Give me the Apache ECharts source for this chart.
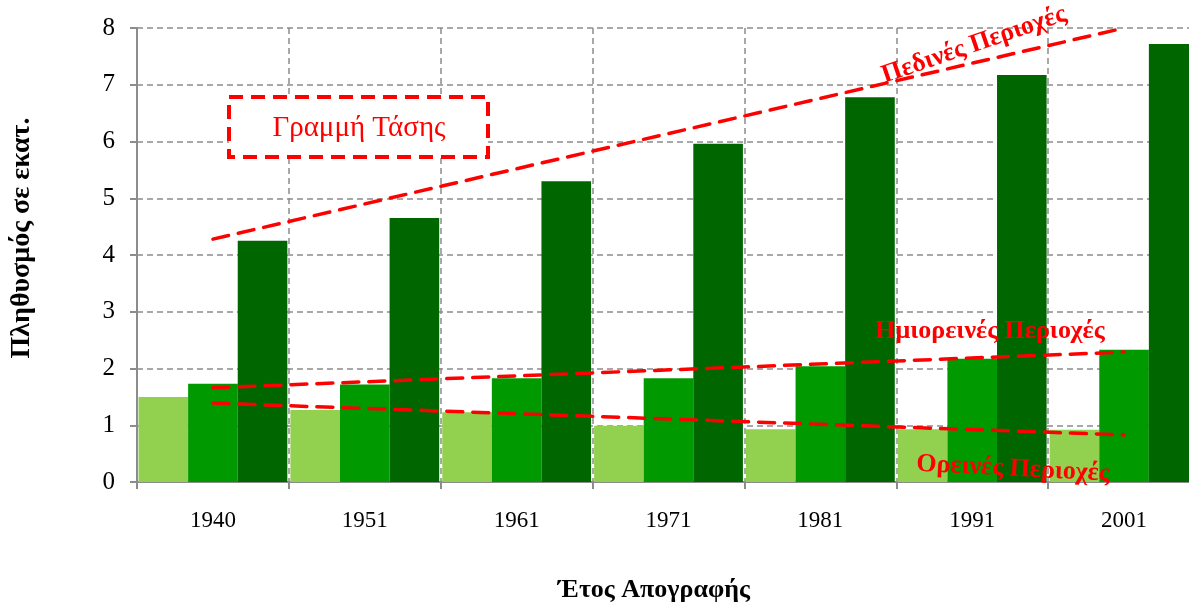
<!DOCTYPE html>
<html>
<head>
<meta charset="utf-8">
<script src="https://cdn.jsdelivr.net/npm/echarts@6/dist/echarts.min.js"></script>
<style>
  html, body { margin: 0; padding: 0; background: #fff; overflow: hidden; }
  /* το διάγραμμα είναι λίγο πλατύτερο από το παράθυρο, κόβεται δεξιά όπως στο πρωτότυπο */
  #chart { width: 1200px; height: 603px; }
</style>
</head>
<body>
<div id="chart"></div>
<script>
// δεδομένα απογραφών (εκατ.)
var years = ['1940', '1951', '1961', '1971', '1981', '1991', '2001'];
var oreines = [1.50, 1.27, 1.23, 0.99, 0.93, 0.93, 0.92];      // ορεινές
var imioreines = [1.73, 1.72, 1.83, 1.83, 2.04, 2.17, 2.33];   // ημιορεινές
var pedines = [4.25, 4.65, 5.30, 5.96, 6.78, 7.17, 7.72];      // πεδινές
// γραμμές τάσης: μόνο αρχή και τέλος
var trendPedines = [4.28, null, null, null, null, null, 8.0];
var trendImioreines = [1.66, null, null, null, null, null, 2.29];
var trendOreines = [1.39, null, null, null, null, null, 0.83];

var serif = '"Liberation Serif", "DejaVu Serif", serif';
var myChart = echarts.init(document.getElementById('chart'));

function trend(data) {
  return {
    type: 'line',
    data: data,
    connectNulls: true,
    symbol: 'none',
    z: 5,
    silent: true,
    lineStyle: { color: '#ff0000', width: 3.5, type: [16, 10], cap: 'round' }
  };
}

var option = {
  animation: false,
  grid: { left: 137, top: 28, right: 0, bottom: 121 },
  xAxis: {
    type: 'category',
    data: years,
    axisLine: { lineStyle: { color: '#8c8c8c', width: 2 } },
    axisTick: { show: true, length: 7, lineStyle: { color: '#8c8c8c', width: 2 } },
    axisLabel: { fontFamily: serif, fontSize: 23, color: '#000', margin: 27 },
    splitLine: { show: true, lineStyle: { color: '#8c8c8c', width: 1.5, type: [6, 4] } }
  },
  yAxis: {
    type: 'value',
    min: 0, max: 8, interval: 1,
    axisLine: { show: true, lineStyle: { color: '#8c8c8c', width: 2 } },
    axisTick: { show: true, length: 7, lineStyle: { color: '#8c8c8c', width: 2 } },
    axisLabel: { fontFamily: serif, fontSize: 25, color: '#000', margin: 22 },
    splitLine: { show: true, lineStyle: { color: '#8c8c8c', width: 1.5, type: [6, 4] } }
  },
  series: [
    { type: 'bar', data: oreines, barGap: '0%', barCategoryGap: '2%', itemStyle: { color: '#92d050' } },
    { type: 'bar', data: imioreines, barGap: '0%', barCategoryGap: '2%', itemStyle: { color: '#009900' } },
    { type: 'bar', data: pedines, barGap: '0%', barCategoryGap: '2%', itemStyle: { color: '#006600' } },
    trend(trendPedines),
    trend(trendImioreines),
    trend(trendOreines)
  ],
  graphic: [
    // τίτλος άξονα y
    { type: 'text', x: 22, y: 238, rotation: Math.PI / 2, z: 10,
      style: { text: 'Πληθυσμός σε εκατ.', font: 'bold 28px ' + serif, fill: '#000', align: 'center', verticalAlign: 'middle' } },
    // τίτλος άξονα x
    { type: 'text', x: 654, y: 590, z: 10,
      style: { text: 'Έτος Απογραφής', font: 'bold 26px ' + serif, fill: '#000', align: 'center', verticalAlign: 'middle' } },
    // πλαίσιο "Γραμμή Τάσης"
    { type: 'rect', shape: { x: 229, y: 97, width: 259, height: 60 }, z: 10,
      style: { fill: '#fff', stroke: '#ff0000', lineWidth: 4, lineDash: [14, 8] } },
    { type: 'text', x: 359, y: 128, z: 11,
      style: { text: 'Γραμμή Τάσης', font: '29px ' + serif, fill: '#ff0000', align: 'center', verticalAlign: 'middle' } },
    // ετικέτες γραμμών
    { type: 'text', x: 974, y: 45, rotation: 19 * Math.PI / 180, z: 10,
      style: { text: 'Πεδινές Περιοχές', font: 'bold 26px ' + serif, fill: '#ff0000', align: 'center', verticalAlign: 'middle' } },
    { type: 'text', x: 990, y: 331, z: 10,
      style: { text: 'Ημιορεινές Περιοχές', font: 'bold 26px ' + serif, fill: '#ff0000', align: 'center', verticalAlign: 'middle' } },
    { type: 'text', x: 1013, y: 469, rotation: -3 * Math.PI / 180, z: 10,
      style: { text: 'Ορεινές Περιοχές', font: 'bold 26px ' + serif, fill: '#ff0000', align: 'center', verticalAlign: 'middle' } }
  ]
};

myChart.setOption(option);
</script>
</body>
</html>
